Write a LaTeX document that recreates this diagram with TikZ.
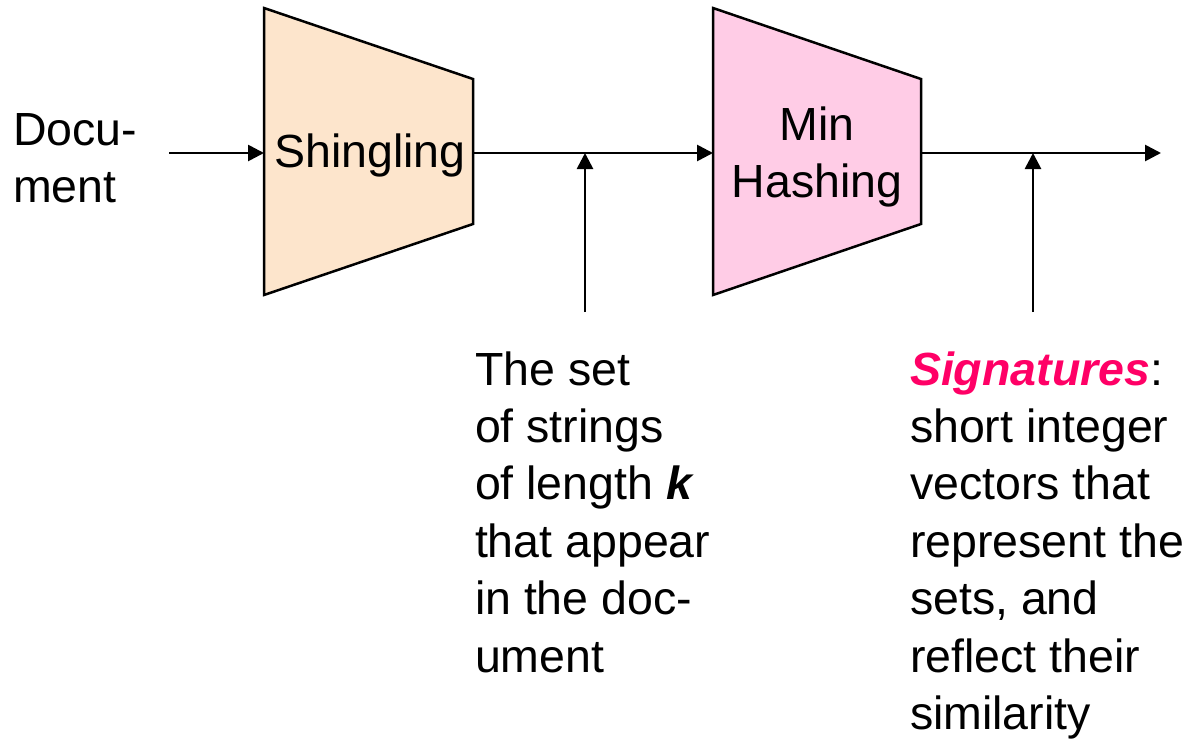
\documentclass[tikz,border=0pt]{standalone}
\usepackage{fontspec}
\setmainfont{Liberation Sans}
\usetikzlibrary{arrows.meta}
\definecolor{peach}{RGB}{253,229,204}
\definecolor{pinkfill}{RGB}{255,204,230}
\definecolor{sigred}{RGB}{255,0,102}
\begin{document}
\begin{tikzpicture}[x=1pt,y=-1pt,
  every node/.style={inner sep=0pt,outer sep=0pt,font=\fontsize{46.5}{57.4}\selectfont},
  box/.style={draw=black,line width=2.5pt,line join=miter},
  arr/.style={draw=black,line width=2.7pt,-{Triangle[length=16pt,width=16pt]}},
  lbl/.style={align=left,anchor=base west}]
\useasboundingbox[fill=white] (0,0) rectangle (1194,739);
% trapezoids
\draw[box,fill=peach] (264,8) -- (473,79) -- (473,224) -- (264,295) -- cycle;
\draw[box,fill=pinkfill] (713,8) -- (921,79) -- (921,224) -- (713,295) -- cycle;
\node[anchor=base] (shing) at (370,167) {Shingling};
\node[align=center,anchor=base] (minhash) at (817,197.4) {Min\\Hashing};
% connection points
\coordinate (docout) at (169,153);
\coordinate (shingL) at (264,153);
\coordinate (shingR) at (473,153);
\coordinate (mhL) at (713,153);
\coordinate (mhR) at (921,153);
\coordinate (out) at (1161,153);
\coordinate (v1b) at (585,312);
\coordinate (v1t) at (585,153);
\coordinate (v2b) at (1033,312);
\coordinate (v2t) at (1033,153);
% labels
\node[lbl] (doc) at (13,202.4) {Docu-\\ment};
\node[lbl] (sets) at (475,672) {The set\\of strings\\of length \textbf{\textit{k}}\\that appear\\in the doc-\\ument};
\node[lbl] (sigs) at (910,729.4) {\textcolor{sigred}{\textbf{\textit{Signatures}}}:\\short integer\\vectors that\\represent the\\sets, and\\reflect their\\similarity};
% connectors
\draw[arr] (docout) -- (shingL);
\draw[arr] (shingR) -- (mhL);
\draw[arr] (mhR) -- (out);
\draw[arr] (v1b) -- (v1t);
\draw[arr] (v2b) -- (v2t);
\end{tikzpicture}
\end{document}
